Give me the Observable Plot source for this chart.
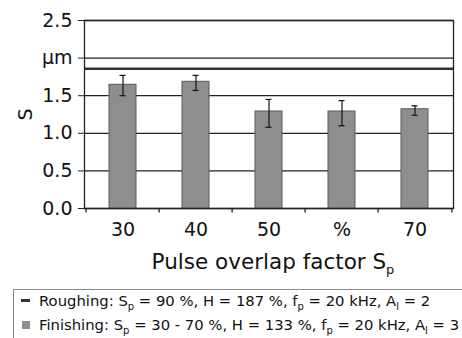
<!DOCTYPE html>
<html><head><meta charset="utf-8">
<script src="https://cdn.jsdelivr.net/npm/d3@7"></script>
<script src="https://cdn.jsdelivr.net/npm/@observablehq/plot@0.6"></script>
<style>
body{margin:0;background:#fff;font-family:"DejaVu Sans",sans-serif;}
#wrap{position:relative;width:462px;height:338px;overflow:hidden;}
#title{position:absolute;left:0;width:546px;text-align:center;top:250px;font-size:21.5px;line-height:24px;color:#111;}
#legend{position:absolute;left:13px;top:289px;width:470px;height:60px;border:1px solid #888;font-size:14.8px;color:#111;}
.row{position:absolute;left:25px;white-space:nowrap;line-height:20px;}
.row sub{font-size:10px;vertical-align:-4px;line-height:0;}
#title sub{font-size:13px;vertical-align:-5px;line-height:0;}
.dash{position:absolute;left:7px;top:9px;width:9px;height:2.5px;background:#333;}
.sq{position:absolute;left:8px;top:31px;width:8px;height:8px;background:#8e8e8e;}
</style></head>
<body><div id="wrap"><div id="chart"></div>
<div id="title">Pulse overlap factor S<sub>p</sub></div>
<div id="legend">
<span class="dash"></span><span class="sq"></span>
<div class="row" style="top:1px">Roughing: S<sub>p</sub> = 90 %, H = 187 %, f<sub>p</sub> = 20 kHz, A<sub>l</sub> = 2</div>
<div class="row" style="top:25px">Finishing: S<sub>p</sub> = 30 - 70 %, H = 133 %, f<sub>p</sub> = 20 kHz, A<sub>l</sub> = 3</div>
</div></div>
<script>
const categories = ["30","40","50","%","70"];
const finishing = [1.645,1.685,1.29,1.29,1.32];
const errLow = [1.50,1.57,1.08,1.10,1.24];
const errHigh = [1.77,1.77,1.45,1.435,1.365];
const roughing = 1.86;
const yTicks = [0,0.5,1,1.5,2,2.5];
const yTickLabels = ["0.0","0.5","1.0","1.5","µm","2.5"];

const data = categories.map((c,i)=>({cat:c,value:finishing[i],lo:errLow[i],hi:errHigh[i]}));
const W=462, mL=84, mR=9;
const step=(W-mL-mR)/categories.length;

const chart = Plot.plot({
  width:W, height:245, marginLeft:mL, marginRight:mR, marginTop:20, marginBottom:37,
  style:{fontSize:"19px",fontFamily:"DejaVu Sans, sans-serif",color:"#111",background:"#fff"},
  x:{domain:categories, paddingInner:0.634, paddingOuter:0.317},
  y:{domain:[0,2.5]},
  marks:[
    Plot.ruleY(yTicks,{stroke:"#222",strokeWidth:1.3}),
    Plot.ruleY([roughing],{stroke:"#333",strokeWidth:2.5}),
    Plot.barY(data,{x:"cat",y:"value",fill:"#8e8e8e",stroke:"#5a5a5a",strokeWidth:1}),
    Plot.ruleX(data,{x:"cat",y1:"lo",y2:"hi",stroke:"#111",strokeWidth:1.2}),
    Plot.tickY(data,{x:"cat",y:"lo",stroke:"#111",insetLeft:10.5,insetRight:10.5,strokeWidth:1.2}),
    Plot.tickY(data,{x:"cat",y:"hi",stroke:"#111",insetLeft:10.5,insetRight:10.5,strokeWidth:1.2}),
    Plot.ruleX(categories,{x:d=>d,y1:0,y2:-0.06,dx:-step/2,stroke:"#222",strokeWidth:1.3}),
    Plot.ruleX(categories.slice(-1),{x:d=>d,y1:0,y2:-0.06,dx:step/2,stroke:"#222",strokeWidth:1.3}),
    Plot.frame({stroke:"#222",strokeWidth:1.3}),
    Plot.axisY({ticks:yTicks,tickFormat:(d)=>yTickLabels[yTicks.indexOf(d)],tickSize:6,tickPadding:6,label:"S",labelAnchor:"center",labelArrow:"none",labelOffset:66,stroke:"#222"}),
    Plot.axisX({tickSize:0,tickPadding:14,label:null})
  ]
});
document.getElementById("chart").appendChild(chart);
</script></body></html>
